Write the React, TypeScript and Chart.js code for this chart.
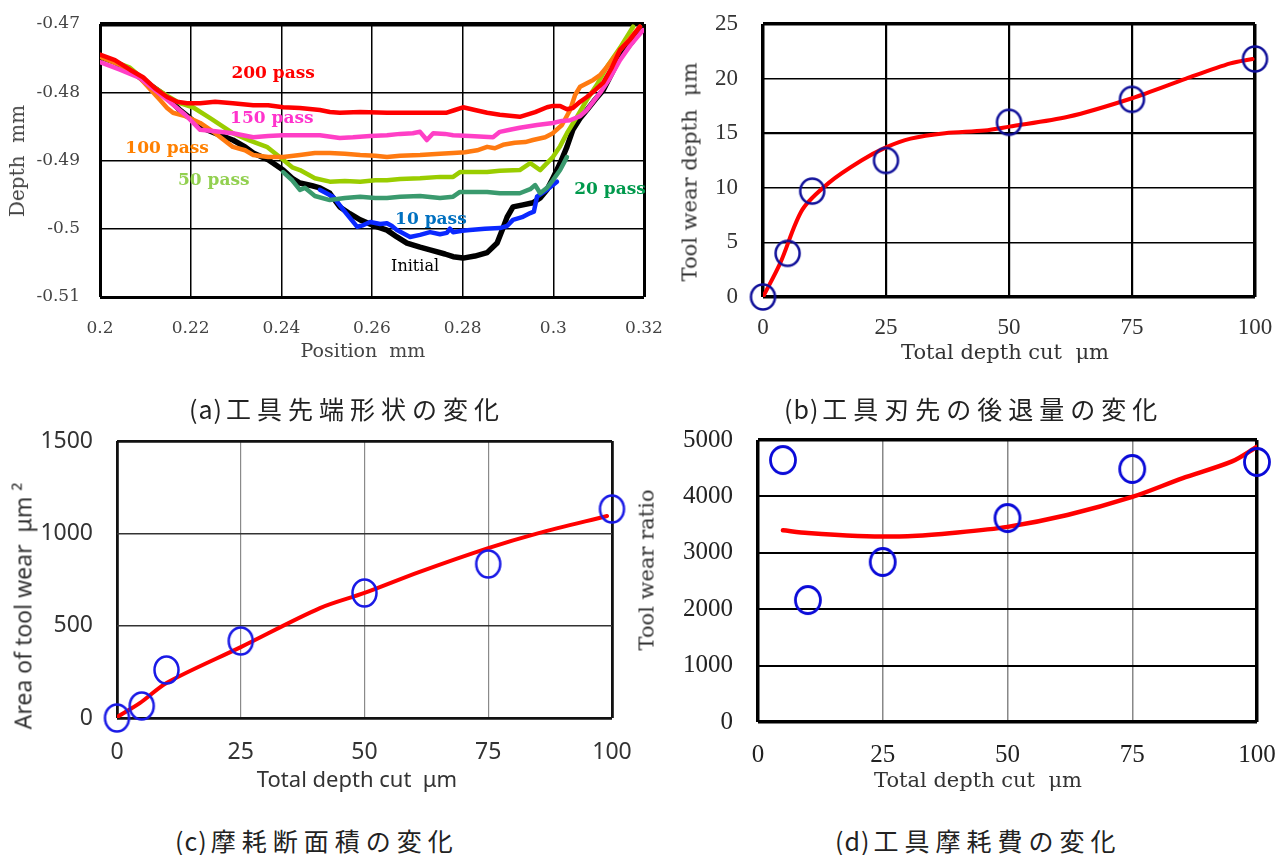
import React, { useEffect, useRef } from "react";
import { Chart, registerables } from "chart.js";

Chart.register(...registerables);

// ================= (a) tool tip profile =================
const aXTicks = [0.2, 0.22, 0.24, 0.26, 0.28, 0.3, 0.32];
const aYTicks = [-0.51, -0.5, -0.49, -0.48, -0.47];

const profile200: number[][] = [[0.2000,-0.4745],[0.2033,-0.4753],[0.2066,-0.4767],[0.2095,-0.4778],[0.2121,-0.4794],[0.2148,-0.4807],[0.2170,-0.4814],[0.2192,-0.4816],[0.2221,-0.4816],[0.2254,-0.4814],[0.2293,-0.4816],[0.2338,-0.4819],[0.2371,-0.4819],[0.2404,-0.4822],[0.2441,-0.4823],[0.2485,-0.4826],[0.2507,-0.4829],[0.2529,-0.4830],[0.2574,-0.4829],[0.2633,-0.4830],[0.2684,-0.4830],[0.2728,-0.4830],[0.2765,-0.4830],[0.2783,-0.4826],[0.2801,-0.4822],[0.2827,-0.4826],[0.2854,-0.4830],[0.2882,-0.4833],[0.2926,-0.4836],[0.2960,-0.4829],[0.2986,-0.4822],[0.2999,-0.4820],[0.3015,-0.4820],[0.3030,-0.4825],[0.3043,-0.4823],[0.3059,-0.4814],[0.3074,-0.4807],[0.3092,-0.4797],[0.3110,-0.4786],[0.3129,-0.4764],[0.3147,-0.4738],[0.3169,-0.4723],[0.3191,-0.4704]];

const profile150: number[][] = [[0.2000,-0.4756],[0.2044,-0.4767],[0.2088,-0.4779],[0.2148,-0.4811],[0.2188,-0.4833],[0.2221,-0.4855],[0.2254,-0.4857],[0.2293,-0.4860],[0.2338,-0.4866],[0.2371,-0.4864],[0.2404,-0.4863],[0.2441,-0.4863],[0.2485,-0.4863],[0.2529,-0.4867],[0.2558,-0.4866],[0.2596,-0.4864],[0.2633,-0.4863],[0.2662,-0.4861],[0.2690,-0.4860],[0.2706,-0.4858],[0.2721,-0.4870],[0.2735,-0.4860],[0.2761,-0.4861],[0.2779,-0.4863],[0.2816,-0.4864],[0.2867,-0.4866],[0.2882,-0.4858],[0.2904,-0.4855],[0.2926,-0.4852],[0.2964,-0.4848],[0.2999,-0.4845],[0.3019,-0.4842],[0.3037,-0.4841],[0.3059,-0.4835],[0.3074,-0.4826],[0.3103,-0.4801],[0.3125,-0.4779],[0.3147,-0.4753],[0.3169,-0.4732],[0.3198,-0.4709]];

const profile100: number[][] = [[0.2000,-0.4748],[0.2044,-0.4760],[0.2088,-0.4779],[0.2132,-0.4811],[0.2148,-0.4823],[0.2161,-0.4830],[0.2188,-0.4835],[0.2221,-0.4845],[0.2254,-0.4860],[0.2293,-0.4880],[0.2320,-0.4885],[0.2338,-0.4892],[0.2371,-0.4895],[0.2404,-0.4895],[0.2441,-0.4892],[0.2474,-0.4889],[0.2507,-0.4889],[0.2540,-0.4890],[0.2574,-0.4892],[0.2607,-0.4893],[0.2633,-0.4895],[0.2662,-0.4893],[0.2706,-0.4892],[0.2750,-0.4890],[0.2779,-0.4889],[0.2805,-0.4888],[0.2832,-0.4885],[0.2854,-0.4880],[0.2871,-0.4882],[0.2889,-0.4877],[0.2915,-0.4874],[0.2938,-0.4873],[0.2955,-0.4870],[0.2982,-0.4866],[0.2999,-0.4860],[0.3019,-0.4848],[0.3037,-0.4826],[0.3048,-0.4804],[0.3059,-0.4792],[0.3088,-0.4782],[0.3103,-0.4775],[0.3118,-0.4763],[0.3147,-0.4738],[0.3169,-0.4721],[0.3191,-0.4704]];

const profile50: number[][] = [[0.2000,-0.4747],[0.2066,-0.4764],[0.2110,-0.4789],[0.2148,-0.4805],[0.2176,-0.4816],[0.2205,-0.4822],[0.2243,-0.4838],[0.2293,-0.4860],[0.2331,-0.4871],[0.2368,-0.4880],[0.2404,-0.4899],[0.2424,-0.4910],[0.2441,-0.4914],[0.2474,-0.4926],[0.2507,-0.4931],[0.2540,-0.4930],[0.2574,-0.4931],[0.2607,-0.4929],[0.2633,-0.4929],[0.2662,-0.4927],[0.2706,-0.4926],[0.2750,-0.4924],[0.2779,-0.4924],[0.2794,-0.4917],[0.2827,-0.4917],[0.2854,-0.4917],[0.2882,-0.4915],[0.2926,-0.4914],[0.2949,-0.4904],[0.2971,-0.4914],[0.2999,-0.4895],[0.3015,-0.4879],[0.3030,-0.4860],[0.3052,-0.4836],[0.3074,-0.4811],[0.3096,-0.4789],[0.3118,-0.4763],[0.3147,-0.4735],[0.3176,-0.4704]];

const profile20: number[][] = [[0.2404,-0.4917],[0.2424,-0.4929],[0.2441,-0.4943],[0.2452,-0.4940],[0.2474,-0.4952],[0.2507,-0.4958],[0.2540,-0.4955],[0.2574,-0.4953],[0.2607,-0.4955],[0.2633,-0.4955],[0.2662,-0.4953],[0.2706,-0.4952],[0.2750,-0.4955],[0.2779,-0.4953],[0.2794,-0.4946],[0.2827,-0.4946],[0.2854,-0.4946],[0.2882,-0.4948],[0.2926,-0.4948],[0.2949,-0.4942],[0.2960,-0.4936],[0.2971,-0.4948],[0.2986,-0.4940],[0.2999,-0.4929],[0.3015,-0.4914],[0.3030,-0.4895]];

const profile10: number[][] = [[0.2485,-0.4943],[0.2514,-0.4953],[0.2540,-0.4975],[0.2567,-0.4997],[0.2580,-0.4995],[0.2596,-0.4990],[0.2618,-0.4993],[0.2633,-0.4992],[0.2644,-0.4996],[0.2655,-0.5002],[0.2684,-0.5012],[0.2706,-0.5009],[0.2728,-0.5005],[0.2750,-0.5008],[0.2765,-0.5006],[0.2772,-0.5000],[0.2779,-0.5005],[0.2799,-0.5003],[0.2816,-0.5002],[0.2849,-0.5000],[0.2882,-0.4999],[0.2898,-0.4996],[0.2911,-0.4987],[0.2931,-0.4983],[0.2949,-0.4977],[0.2957,-0.4975],[0.2964,-0.4953],[0.2986,-0.4943],[0.3008,-0.4931]];

const profileInitial: number[][] = [[0.2000,-0.4748],[0.2033,-0.4756],[0.2066,-0.4767],[0.2095,-0.4782],[0.2121,-0.4794],[0.2148,-0.4807],[0.2176,-0.4826],[0.2199,-0.4838],[0.2221,-0.4851],[0.2254,-0.4860],[0.2293,-0.4870],[0.2320,-0.4880],[0.2338,-0.4889],[0.2371,-0.4899],[0.2404,-0.4914],[0.2424,-0.4926],[0.2441,-0.4933],[0.2468,-0.4937],[0.2485,-0.4940],[0.2507,-0.4948],[0.2529,-0.4968],[0.2551,-0.4978],[0.2574,-0.4987],[0.2602,-0.4995],[0.2633,-0.5002],[0.2655,-0.5012],[0.2677,-0.5021],[0.2706,-0.5027],[0.2728,-0.5031],[0.2761,-0.5037],[0.2779,-0.5041],[0.2801,-0.5043],[0.2827,-0.5040],[0.2854,-0.5035],[0.2876,-0.5021],[0.2889,-0.4999],[0.2898,-0.4983],[0.2911,-0.4968],[0.2933,-0.4965],[0.2955,-0.4962],[0.2971,-0.4955],[0.2986,-0.4943],[0.2999,-0.4926],[0.3015,-0.4904],[0.3030,-0.4880],[0.3043,-0.4855],[0.3059,-0.4838],[0.3074,-0.4826],[0.3092,-0.4811],[0.3110,-0.4797],[0.3129,-0.4772],[0.3147,-0.4748],[0.3174,-0.4726],[0.3198,-0.4704]];

const passNames = ["200 pass", "150 pass", "100 pass", "50 pass", "20 pass", "10 pass", "Initial"];
const passProfiles = [profile200, profile150, profile100, profile50, profile20, profile10, profileInitial];
// label anchors (data units)
const passLabelX = [0.2382, 0.2379, 0.2148, 0.2251, 0.3125, 0.273, 0.2695];
const passLabelY = [-0.4772, -0.4838, -0.4883, -0.493, -0.4943, -0.4986, -0.5056];

// ================= (b) tool wear depth =================
const xTicks100 = [0, 25, 50, 75, 100];
const bYTicks = [0, 5, 10, 15, 20, 25];
const depthCut = [0, 5, 10, 25, 50, 75, 100];
const wearDepth = [0, 4.0, 9.7, 12.5, 16.0, 18.1, 21.8];
const wearDepthFitX = [0, 3.5, 8, 13.5, 20, 25, 30, 37, 45, 50, 62, 75, 86, 95, 99.5];
const wearDepthFitY = [0, 3.1, 8.0, 10.5, 12.5, 13.7, 14.5, 15.0, 15.25, 15.6, 16.5, 18.2, 20.0, 21.4, 21.8];

// ================= (c) area of tool wear =================
const cYTicks = [0, 500, 1000, 1500];
const wearArea = [0, 65, 260, 417, 677, 834, 1132];
const wearAreaFitX = [0, 4.6, 10, 25, 41, 50, 61, 75, 85, 99];
const wearAreaFitY = [5, 80, 190, 384, 595, 677, 790, 920, 1000, 1094];

// ================= (d) tool wear ratio =================
const dYTicks = [0, 1000, 2000, 3000, 4000, 5000];
const ratioCut = [5, 10, 25, 50, 75, 100];
const wearRatio = [4645, 2163, 2837, 3617, 4486, 4610];
const wearRatioFitX = [5, 10, 20, 30, 40, 50, 62, 75, 85, 95, 100];
const wearRatioFitY = [3400, 3350, 3300, 3295, 3360, 3460, 3670, 3990, 4320, 4620, 4880];

// ================= styles =================
const passColors = ["#ff0000", "#ff3fc6", "#ff7a10", "#9acd00", "#3a9a6e", "#0a28ff", "#000000"];
const passLabelColors = ["#ff0000", "#ff33cc", "#ff8000", "#92d050", "#00994c", "#0070c0", "#000000"];
const passWidths = [4.5, 4.5, 4.5, 4.5, 4.5, 4.5, 5.5];

function ringMarker(rx: number, ry: number, lw: number, color: string) {
  const c = document.createElement("canvas");
  c.width = Math.ceil(2 * rx + lw + 2);
  c.height = Math.ceil(2 * ry + lw + 2);
  const g = c.getContext("2d")!;
  g.strokeStyle = color;
  g.lineWidth = lw;
  g.beginPath();
  g.ellipse(c.width / 2, c.height / 2, rx, ry, 0, 0, Math.PI * 2);
  g.stroke();
  return c;
}

function makeScale(s: any) {
  const n = s.ticks.length;
  return {
    type: "linear",
    min: s.min,
    max: s.max,
    afterBuildTicks: (sc: any) => {
      sc.ticks = s.ticks.map((v: number) => ({ value: v }));
    },
    afterFit: (sc: any) => {
      if (s.horizontal) sc.height = s.size;
      else sc.width = s.size;
      sc.paddingLeft = 0;
      sc.paddingRight = 0;
      sc.paddingTop = 0;
      sc.paddingBottom = 0;
    },
    border: { display: false },
    grid: {
      drawTicks: false,
      color: (c: any) => s.gridColor(c.index ?? 1, n),
      lineWidth: (c: any) => s.gridWidth(c.index ?? 1, n),
    },
    ticks: {
      autoSkip: false,
      maxRotation: 0,
      minRotation: 0,
      padding: s.pad,
      font: s.font,
      color: s.color,
      callback: (v: any) => String(v),
    },
  };
}

const baseOptions = (padTop: number, padRight: number) => ({
  responsive: false,
  animation: false as const,
  events: [] as any[],
  layout: { padding: { left: 0, top: padTop, right: padRight, bottom: 0 } },
  plugins: { legend: { display: false }, tooltip: { enabled: false } },
});

const pts = (xs: number[], ys: number[]) => xs.map((x, i) => ({ x, y: ys[i] }));

function buildA(): any {
  const labelPlugin = {
    id: "passLabels",
    beforeDatasetsDraw(chart: any) {
      const { ctx, scales } = chart;
      ctx.save();
      ctx.textAlign = "center";
      ctx.textBaseline = "middle";
      passNames.forEach((t, i) => {
        ctx.font = t === "Initial" ? '16px "DejaVu Serif"' : 'bold 17px "DejaVu Serif"';
        ctx.fillStyle = passLabelColors[i];
        ctx.fillText(t, scales.x.getPixelForValue(passLabelX[i]), scales.y.getPixelForValue(passLabelY[i]));
      });
      ctx.restore();
    },
  };
  const tickFont = { family: '"DejaVu Serif"', size: 17 };
  return {
    type: "scatter",
    data: {
      datasets: passProfiles.map((p, i) => ({
        label: passNames[i],
        data: p.map(([x, y]) => ({ x, y })),
        showLine: true,
        borderColor: passColors[i],
        backgroundColor: passColors[i],
        borderWidth: passWidths[i],
        pointRadius: 0,
        tension: 0,
        borderJoinStyle: "round",
        borderCapStyle: "round",
      })),
    },
    options: {
      ...baseOptions(24, 36),
      scales: {
        x: makeScale({
          min: 0.2, max: 0.32, ticks: aXTicks, size: 73, horizontal: true, font: tickFont, color: "#444", pad: 21,
          gridColor: () => "#000", gridWidth: (i: number, n: number) => (i === 0 || i === n - 1 ? 3 : 1.5),
        }),
        y: makeScale({
          min: -0.51, max: -0.47, ticks: aYTicks, size: 100, horizontal: false, font: tickFont, color: "#444", pad: 20,
          gridColor: () => "#000", gridWidth: (i: number, n: number) => (i === n - 1 ? 4.5 : i === 0 ? 3 : 1.5),
        }),
      },
    },
    plugins: [labelPlugin],
  };
}

function buildB(): any {
  const font = { family: '"Liberation Serif"', size: 23 };
  return {
    type: "scatter",
    data: {
      datasets: [
        { label: "measured", data: pts(depthCut, wearDepth), pointStyle: ringMarker(12, 12.5, 2.5, "#10109a"), pointRadius: 13, showLine: false, clip: false },
        { label: "fit", data: pts(wearDepthFitX, wearDepthFitY), showLine: true, borderColor: "#ff0000", borderWidth: 4, pointRadius: 0, tension: 0.3, borderCapStyle: "round", borderJoinStyle: "round" },
      ],
    },
    options: {
      ...baseOptions(24, 22),
      scales: {
        x: makeScale({
          min: 0, max: 100, ticks: xTicks100, size: 73, horizontal: true, font, color: "#333", pad: 17,
          gridColor: () => "#000", gridWidth: (i: number, n: number) => (i === 0 || i === n - 1 ? 3.5 : 2.2),
        }),
        y: makeScale({
          min: 0, max: 25, ticks: bYTicks, size: 103, horizontal: false, font, color: "#333", pad: 25,
          gridColor: () => "#000", gridWidth: (i: number, n: number) => (i === 0 || i === n - 1 ? 3.5 : i === 3 ? 2.3 : 1.5),
        }),
      },
    },
  };
}

function buildC(): any {
  const font = { family: '"Noto Sans"', size: 23 };
  return {
    type: "scatter",
    data: {
      datasets: [
        { label: "measured", data: pts(depthCut, wearArea), pointStyle: ringMarker(12, 13.5, 2.5, "#1a1ae6"), pointRadius: 13, showLine: false, clip: false },
        { label: "fit", data: pts(wearAreaFitX, wearAreaFitY), showLine: true, borderColor: "#ff0000", borderWidth: 4, pointRadius: 0, tension: 0.3, borderCapStyle: "round", borderJoinStyle: "round" },
      ],
    },
    options: {
      ...baseOptions(16, 48),
      scales: {
        x: makeScale({
          min: 0, max: 100, ticks: xTicks100, size: 87, horizontal: true, font, color: "#333", pad: 21,
          gridColor: (i: number, n: number) => (i === 0 || i === n - 1 ? "#111" : "#8a8a8a"),
          gridWidth: (i: number, n: number) => (i === 0 || i === n - 1 ? 2.8 : 1.2),
        }),
        y: makeScale({
          min: 0, max: 1500, ticks: cYTicks, size: 117, horizontal: false, font, color: "#333", pad: 24,
          gridColor: (i: number, n: number) => (i === 0 || i === n - 1 ? "#111" : "#333"),
          gridWidth: (i: number, n: number) => (i === 0 || i === n - 1 ? 2.8 : 1.5),
        }),
      },
    },
  };
}

function buildD(): any {
  const font = { family: '"Liberation Serif"', size: 25 };
  return {
    type: "scatter",
    data: {
      datasets: [
        { label: "measured", data: pts(ratioCut, wearRatio), pointStyle: ringMarker(12.5, 13.5, 2.8, "#0a0ad8"), pointRadius: 13, showLine: false, clip: false },
        { label: "fit", data: pts(wearRatioFitX, wearRatioFitY), showLine: true, borderColor: "#ff0000", borderWidth: 4.5, pointRadius: 0, tension: 0.3, borderCapStyle: "round", borderJoinStyle: "round" },
      ],
    },
    options: {
      ...baseOptions(15, 20),
      scales: {
        x: makeScale({
          min: 0, max: 100, ticks: xTicks100, size: 83, horizontal: true, font, color: "#222", pad: 18,
          gridColor: (i: number, n: number) => (i === 0 || i === n - 1 ? "#000" : "#888"),
          gridWidth: (i: number, n: number) => (i === 0 || i === n - 1 ? 3.5 : 1.5),
        }),
        y: makeScale({
          min: 0, max: 5000, ticks: dYTicks, size: 98, horizontal: false, font, color: "#222", pad: 25,
          gridColor: () => "#000",
          gridWidth: (i: number, n: number) => (i === 0 || i === n - 1 ? 3.5 : 2),
        }),
      },
    },
  };
}

function Panel({ left, top, width, height, build }: any) {
  const ref = useRef<HTMLCanvasElement>(null);
  useEffect(() => {
    const chart = new Chart(ref.current as HTMLCanvasElement, build());
    return () => chart.destroy();
  }, []);
  return (
    <canvas
      ref={ref}
      width={width}
      height={height}
      style={{ position: "absolute", left, top, width, height }}
    />
  );
}

const axisTitles = [
  { t: "Depth  mm", x: 17, y: 161, rot: true, family: '"DejaVu Serif"', size: 20, color: "#444" },
  { t: "Position  mm", x: 363, y: 350, rot: false, family: '"DejaVu Serif"', size: 19, color: "#444" },
  { t: "Tool wear depth  μm", x: 690, y: 172, rot: true, family: '"DejaVu Serif"', size: 21, color: "#333" },
  { t: "Total depth cut  μm", x: 1005, y: 352, rot: false, family: '"DejaVu Serif"', size: 21, color: "#333" },
  { t: "Area of tool wear  μm ²", x: 23, y: 606, rot: true, family: '"Noto Sans"', size: 23, color: "#333" },
  { t: "Total depth cut  μm", x: 357, y: 778, rot: false, family: '"Noto Sans"', size: 22, color: "#333" },
  { t: "Tool wear ratio", x: 647, y: 570, rot: true, family: '"DejaVu Serif"', size: 21, color: "#333" },
  { t: "Total depth cut  μm", x: 978, y: 780, rot: false, family: '"DejaVu Serif"', size: 21, color: "#333" },
];

const captionPrefixes = ["(a)", "(b)", "(c)", "(d)"];
const captionTexts = ["工具先端形状の変化", "工具刃先の後退量の変化", "摩耗断面積の変化", "工具摩耗費の変化"];
const captionPos = [
  { left: 189, y: 408, spacing: 6 },
  { left: 784, y: 408, spacing: 6 },
  { left: 175, y: 840, spacing: 6 },
  { left: 835, y: 840, spacing: 6 },
];

export default function App() {
  return (
    <div
      style={{
        position: "absolute",
        left: 0,
        top: 0,
        width: 1277,
        height: 855,
        background: "#fff",
        overflow: "hidden",
      }}
    >
      <Panel left={0} top={0} width={680} height={370} build={buildA} />
      <Panel left={660} top={0} width={617} height={370} build={buildB} />
      <Panel left={0} top={425} width={660} height={380} build={buildC} />
      <Panel left={660} top={425} width={617} height={380} build={buildD} />
      {axisTitles.map((a, i) => (
        <div
          key={"t" + i}
          style={{
            position: "absolute",
            left: a.x,
            top: a.y,
            transform: `translate(-50%, -50%)${a.rot ? " rotate(-90deg)" : ""}`,
            whiteSpace: "pre",
            fontFamily: a.family,
            fontSize: a.size,
            color: a.color,
            lineHeight: 1,
          }}
        >
          {a.t}
        </div>
      ))}
      {captionTexts.map((c, i) => (
        <div
          key={"c" + i}
          style={{
            position: "absolute",
            left: captionPos[i].left,
            top: captionPos[i].y,
            transform: "translateY(-50%)",
            whiteSpace: "pre",
            fontFamily: '"Noto Sans CJK JP"',
            fontSize: 25,
            color: "#222",
            lineHeight: 1,
          }}
        >
          <span style={{ letterSpacing: 1 }}>{captionPrefixes[i]}</span>
          <span style={{ letterSpacing: captionPos[i].spacing, marginLeft: 3 }}>{c}</span>
        </div>
      ))}
    </div>
  );
}
